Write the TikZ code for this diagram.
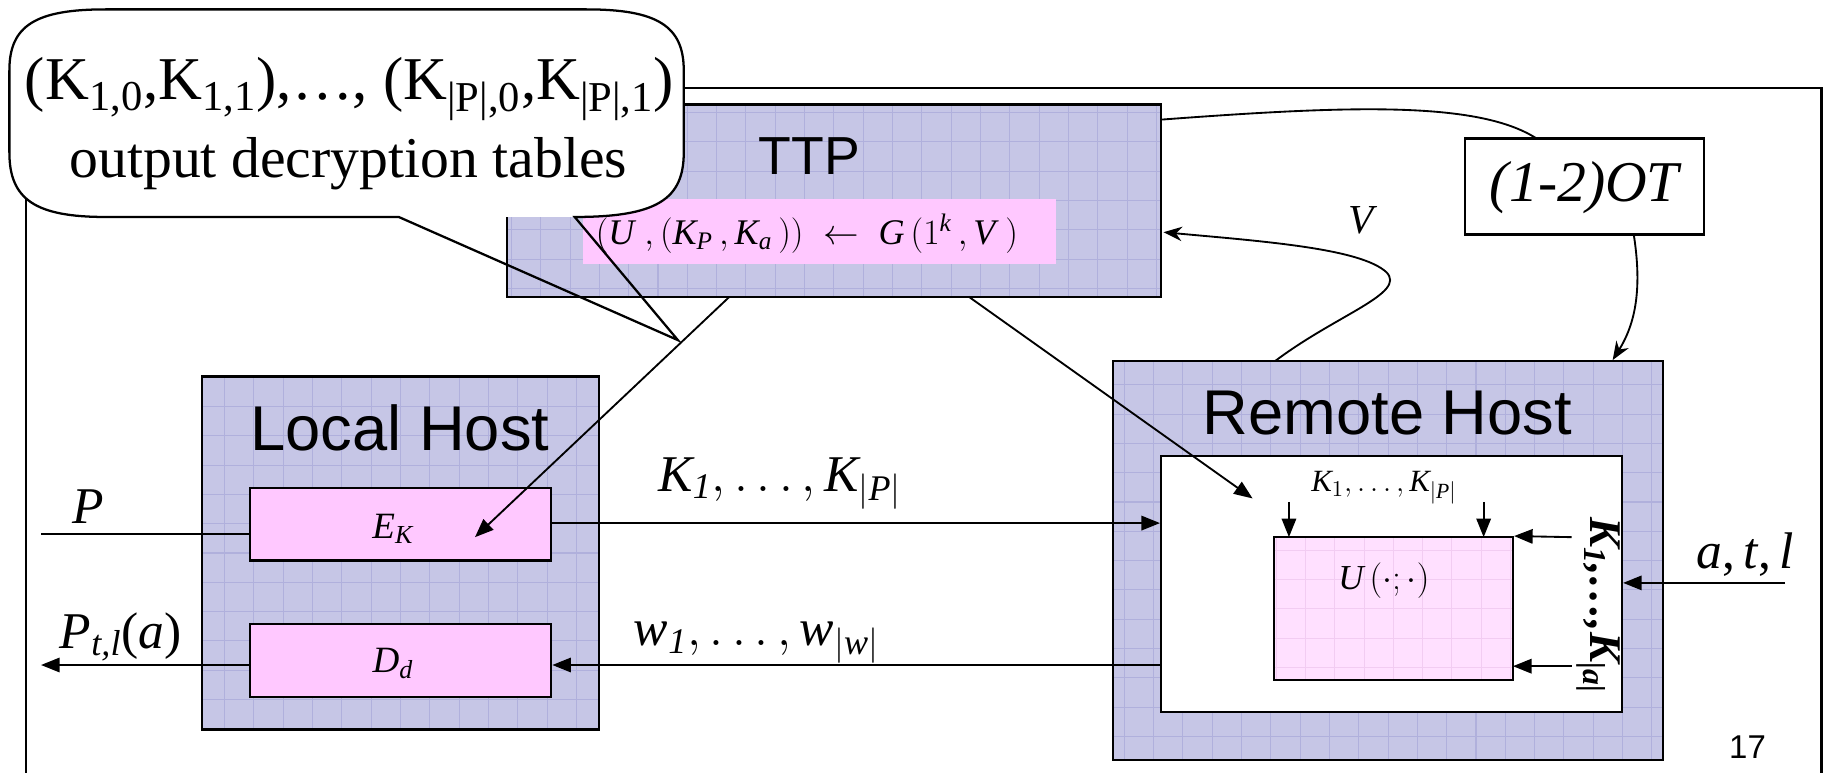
\documentclass[tikz,border=0pt]{standalone}
\usepackage{amsmath}
\usepackage{fontspec}
\setmainfont{Liberation Serif}
\setsansfont{Liberation Sans}
\usetikzlibrary{arrows.meta,calc}
\definecolor{lavbg}{RGB}{198,198,230}
\definecolor{lavgrid}{RGB}{176,176,220}
\definecolor{pinkbg}{RGB}{255,200,255}
\definecolor{pinklt}{RGB}{255,224,255}
\definecolor{pinkgrid}{RGB}{242,204,242}
\newcommand\setfs[1]{\fontsize{#1}{#1}\selectfont}
\begin{document}
\begin{tikzpicture}[x=0.02cm,y=-0.02cm,
  hostbox/.style={draw=black, line width=1.1pt, fill=lavbg, inner sep=0pt,
    path picture={\draw[lavgrid, line width=0.5pt, step=0.5cm] (path picture bounding box.south west) grid (path picture bounding box.north east);}},
  pinkbox/.style={draw=black, line width=1.1pt, fill=pinkbg, inner sep=0pt},
  ubox/.style={draw=black, line width=1.1pt, fill=pinklt, inner sep=0pt,
    path picture={\draw[pinkgrid, line width=0.5pt, step=0.5cm] (path picture bounding box.south west) grid (path picture bounding box.north east);}},
  whitebox/.style={draw=black, line width=1.1pt, fill=white, inner sep=0pt},
  title/.style={font={\sffamily\setfs{30.7}}, inner sep=0pt},
  lbl/.style={font={\setfs{25}}, inner sep=0pt},
  conn/.style={line width=0.9pt, -{Triangle[length=9pt,width=7pt]}},
  plain/.style={line width=0.9pt},
  curvearrow/.style={line width=0.9pt, -{Stealth[length=9pt,width=7pt]}},
]
\useasboundingbox (0,0) rectangle (1568,659);
\fill[white] (0,0) rectangle (1568,659);

% outer frame
\draw[line width=1.1pt] (22,700) -- (22,75) -- (1553,75) -- (1553,700);

% TTP
\node[hostbox, minimum width=11.16cm, minimum height=3.28cm] (ttp) at (711,171) {};
\fill[pinkbg] (497,170) rectangle (900,225);
\node[title, font={\sffamily\setfs{26}}] (ttpt) at (690,133) {TTP};
\node[inner sep=0pt, font={\setfs{17.5}}] (gen) at (688,199)
  {$(\textit{U}\;,(\textit{K}_{\textit{P}}\,,\textit{K}_{\textit{a}}\,))\;\leftarrow\;\textit{G}\,(1^{\textit{k}}\,,\textit{V}\;)$};

% Local host
\node[hostbox, minimum width=6.78cm, minimum height=6.02cm] (lh) at (341.5,471.5) {};
\node[title] (lht) at (341,365) {Local Host};
\node[pinkbox, minimum width=5.14cm, minimum height=1.24cm] (ek) at (341.5,447) {};
\node[inner sep=0pt, font={\setfs{18}}] (ekt) at (335,451) {$\textit{E}_{\textit{K}}$};
\node[pinkbox, minimum width=5.14cm, minimum height=1.24cm] (dd) at (341.5,563) {};
\node[inner sep=0pt, font={\setfs{18}}] (ddt) at (335,566) {$\textit{D}_{\textit{d}}$};

% Remote host
\node[hostbox, minimum width=9.38cm, minimum height=6.8cm] (rh) at (1183.5,478) {};
\node[title] (rht) at (1183,352) {Remote Host};
\node[whitebox, minimum width=7.86cm, minimum height=4.36cm] (wb) at (1186.5,498) {};
\node[ubox, minimum width=4.08cm, minimum height=2.44cm] (ub) at (1188,519) {};
\node[inner sep=0pt, font={\setfs{17}}] (ubt) at (1180,495) {$\textit{U}\,(\cdot;\cdot)$};
\node[inner sep=0pt, font={\setfs{15}}] (kin) at (1180,416) {$\textit{K}_{1},\ldots,\textit{K}_{|\textit{P}|}$};
\node[inner sep=0pt, rotate=-90, font={\setfs{22}\bfseries\itshape}] (kside) at (1363,516) {K\textsubscript{1},\ldots,K\textsubscript{|a|}};

% OT box
\node[draw=black, line width=1.1pt, fill=white, minimum width=4.08cm, minimum height=1.64cm, inner sep=0pt] (ot) at (1351,159) {};
\node[inner sep=0pt, font={\setfs{28}\itshape}] (ott) at (1351,160) {(1-2)OT};

% labels
\node[lbl] (lp) at (75,432) {\textit{P}};
\node[lbl] (lptl) at (103,543) {$\textit{P}_{\textit{t,l}}$(\textit{a})};
\node[lbl] (lk) at (665,412) {$\textit{K}_{\textit{1}},\ldots,\textit{K}_{|\textit{P}|}$};
\node[lbl] (lw) at (645,548) {$\textit{w}_{\textit{1}},\ldots,\textit{w}_{|\textit{w}|}$};
\node[lbl] (latl) at (1488,473) {\textit{a},\,\textit{t},\,\textit{l}};
\node[lbl, font={\setfs{20}}] (lv) at (1162,188) {\textit{V}};
\node[inner sep=0pt, font={\sffamily\setfs{16}}] (pg) at (1490,637) {17};

% coordinates
\coordinate (pin) at (35,455);
\coordinate (pout) at (35,567);
\coordinate (atl) at (1522,497);
\coordinate (t1) at (622,253);
\coordinate (ekin) at (405,458);
\coordinate (t2) at (826,253);
\coordinate (wbin) at (1068,425);

% connectors
\draw[plain] (pin) -- ($(ek.west)+(0,8)$);
\draw[conn] ($(ek.east)+(0,-1)$) -- ($(ek.east -| wb.west)+(0,-1)$);
\draw[conn] ($(wb.west)+(0,69)$) -- ($(dd.east)+(0,4)$);
\draw[conn] ($(dd.west)+(0,4)$) -- (pout);
\draw[conn] (atl) -- (atl -| wb.east);
\draw[conn] (t1) -- (ekin);
\draw[conn] (t2) -- (wbin);
\draw[conn] (1099,428) -- (1099,458);
\draw[conn] (1265,428) -- (1265,458);
\draw[conn] (1340,458) -- (ub.north east);
\draw[conn] (1340,568) -- (1290,568);
\draw[plain] (990,102) .. controls (1150,90) and (1260,86) .. (1310,118);
\draw[curvearrow] (1393,200) .. controls (1400,245) and (1395,275) .. (1375,307);
\draw[curvearrow] (1087,308) .. controls (1140,268) and (1200,250) .. (1182,232) .. controls (1160,212) and (1080,206) .. (992,198);

% speech bubble
\fill[white] (490,185) .. controls (560,185) and (583,170) .. (583,130) -- (583,60)
  .. controls (583,22) and (560,8) .. (500,8) -- (90,8)
  .. controls (30,8) and (8,22) .. (8,60) -- (8,130)
  .. controls (8,170) and (30,185) .. (90,185) -- cycle;
\draw[line width=1.1pt] (340,185) -- (578,290) -- (490,185) .. controls (560,185) and (583,170) .. (583,130) -- (583,60)
  .. controls (583,22) and (560,8) .. (500,8) -- (90,8)
  .. controls (30,8) and (8,22) .. (8,60) -- (8,130)
  .. controls (8,170) and (30,185) .. (90,185) -- cycle;
\node[inner sep=0pt, font={\setfs{29.5}}] (bub1) at (298,76) {(K\textsubscript{1,0},K\textsubscript{1,1}),\ldots, (K\textsubscript{|P|,0},K\textsubscript{|P|,1})};
\node[inner sep=0pt, font={\setfs{28}}] (bub2) at (297,140) {output decryption tables};
\end{tikzpicture}
\end{document}
